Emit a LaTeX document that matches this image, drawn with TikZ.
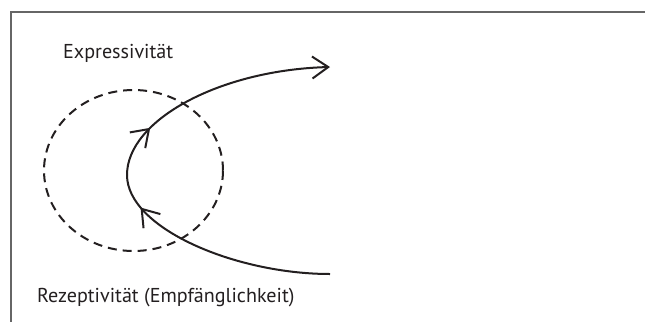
\documentclass[tikz,border=0pt]{standalone}
\usepackage{fontspec}
\setmainfont{PT Sans}
\usetikzlibrary{arrows.meta,decorations.markings,shapes.geometric}
\definecolor{ink}{HTML}{231F20}
\tikzset{
  curve/.style={draw=ink, line width=2pt},
  barb/.tip={Straight Barb[length=16pt,width=22pt,line width=2pt]},
  lbl/.style={anchor=base west, inner sep=0pt, text=ink, font=\fontsize{20.1}{22}\selectfont},
  frame/.style={draw=black!60, line width=1.5pt}
}
\begin{document}
\begin{tikzpicture}[x=1pt,y=-1pt]
\useasboundingbox (0,0) rectangle (645,322);
\draw[frame] (645,12) -- (11,12) -- (11,322);
\node[draw=ink, line width=2pt, dash pattern=on 9pt off 6pt, ellipse, minimum width=179pt, minimum height=161pt, inner sep=0pt] (circ) at (133.5,170.5) {};
\coordinate (s) at (330,274);
\coordinate (l) at (127,175);
\coordinate (e) at (330,67);
\draw[curve, postaction={decorate}, decoration={markings, mark=at position -36pt with {\arrow[ink]{barb}}}]
  (s) .. controls (235,274) and (127,228) .. (l);
\draw[curve, -{barb}, postaction={decorate}, decoration={markings, mark=at position 54pt with {\arrow[ink]{barb}}}]
  (l) .. controls (127,120) and (220,70) .. (e);
\node[lbl] (expr) at (63,58.3) {Expressivität};
\node[lbl] (rez) at (37,302.7) {Rezeptivität (Empfänglichkeit)};
\end{tikzpicture}
\end{document}
